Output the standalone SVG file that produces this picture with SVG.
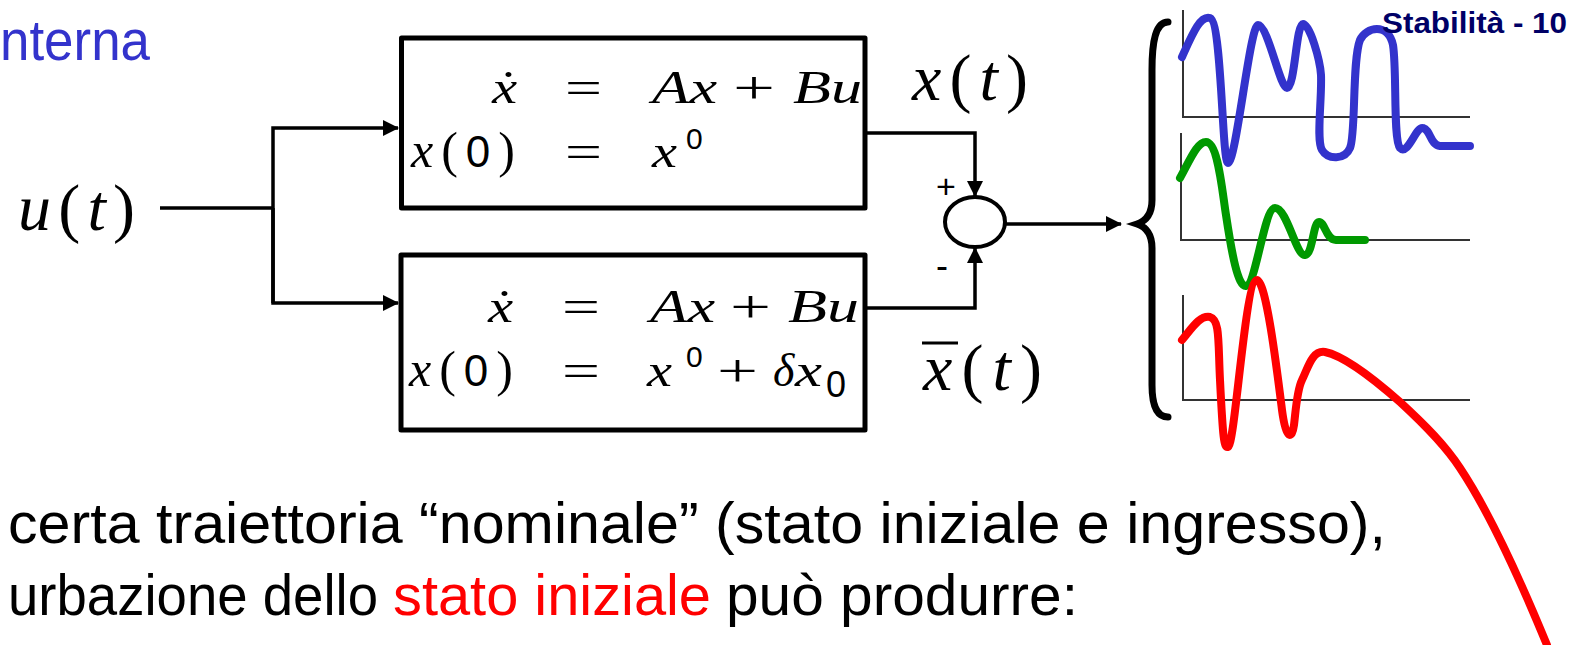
<svg xmlns="http://www.w3.org/2000/svg" width="1580" height="645" viewBox="0 0 1580 645">
<defs>
<style>
.m{font-family:"Liberation Serif","DejaVu Serif",serif;fill:#000}
.i{font-style:italic}
.s{font-family:"Liberation Sans",Arial,sans-serif}
.box{fill:#fff;stroke:#000;stroke-width:5;stroke-linejoin:round}
.w{fill:none;stroke:#000;stroke-width:3.5}
.ax{fill:none;stroke:#333;stroke-width:2}
.cv{fill:none;stroke-width:8;stroke-linecap:round;stroke-linejoin:round}
.body{font-family:"Liberation Sans",Arial,sans-serif;font-size:57px;fill:#000}
</style>
<marker id="ah" markerUnits="userSpaceOnUse" markerWidth="16" markerHeight="16" refX="15" refY="8" orient="auto">
<path d="M0,0 L16,8 L0,16 z" fill="#000"/>
</marker>
</defs>
<rect width="1580" height="645" fill="#fff"/>

<text x="0" y="60" class="body" style="fill:#3333cc" textLength="150" lengthAdjust="spacingAndGlyphs">nterna</text>

<g id="input">
<text class="m" font-size="66" y="230" x="18" textLength="117" lengthAdjust="spacing"><tspan class="i">u</tspan>(<tspan class="i">t</tspan>)</text>
</g>

<g id="connectors">
<polyline class="w" points="160,208 273,208"/>
<polyline class="w" points="273,303 273,128 398,128" marker-end="url(#ah)"/>
<polyline class="w" points="273,208 273,303 398,303" marker-end="url(#ah)"/>
<polyline class="w" points="865,133 975,133 975,196" marker-end="url(#ah)"/>
<polyline class="w" points="865,308 975,308 975,248" marker-end="url(#ah)"/>
<polyline class="w" points="1005,224 1121,224" marker-end="url(#ah)"/>
</g>

<g id="system1">
<rect class="box" x="401.5" y="38" width="463.5" height="170"/>
<text class="m i" font-size="46" x="492" y="103" textLength="25" lengthAdjust="spacingAndGlyphs">ẋ</text>
<text class="m" font-size="46" x="565" y="103" textLength="37" lengthAdjust="spacingAndGlyphs">=</text>
<text class="m i" font-size="46" x="652" y="103" textLength="65" lengthAdjust="spacingAndGlyphs">Ax</text>
<text class="m" font-size="46" x="733" y="103" textLength="42" lengthAdjust="spacingAndGlyphs">+</text>
<text class="m i" font-size="46" x="793" y="103" textLength="69" lengthAdjust="spacingAndGlyphs">Bu</text>
<text class="m" font-size="50" x="411" y="167" textLength="104" lengthAdjust="spacing"><tspan class="i">x</tspan>(<tspan class="s" font-size="44">0</tspan>)</text>
<text class="m" font-size="46" x="565" y="167" textLength="37" lengthAdjust="spacingAndGlyphs">=</text>
<text class="m i" font-size="46" x="652" y="167" textLength="25" lengthAdjust="spacingAndGlyphs">x</text>
<text class="m s" font-size="30" x="686" y="149">0</text>
</g>

<g id="system2">
<rect class="box" x="401" y="255" width="464" height="175"/>
<text class="m i" font-size="46" x="488" y="322" textLength="25" lengthAdjust="spacingAndGlyphs">ẋ</text>
<text class="m" font-size="46" x="562" y="322" textLength="38" lengthAdjust="spacingAndGlyphs">=</text>
<text class="m i" font-size="46" x="650" y="322" textLength="65" lengthAdjust="spacingAndGlyphs">Ax</text>
<text class="m" font-size="46" x="730" y="322" textLength="41" lengthAdjust="spacingAndGlyphs">+</text>
<text class="m i" font-size="46" x="788" y="322" textLength="71" lengthAdjust="spacingAndGlyphs">Bu</text>
<text class="m" font-size="50" x="409" y="386" textLength="104" lengthAdjust="spacing"><tspan class="i">x</tspan>(<tspan class="s" font-size="44">0</tspan>)</text>
<text class="m" font-size="46" x="562" y="386" textLength="38" lengthAdjust="spacingAndGlyphs">=</text>
<text class="m i" font-size="46" x="647" y="386" textLength="25" lengthAdjust="spacingAndGlyphs">x</text>
<text class="m s" font-size="30" x="686" y="367">0</text>
<text class="m" font-size="46" x="717" y="386" textLength="41" lengthAdjust="spacingAndGlyphs">+</text>
<text class="m i" font-size="46" x="773" y="386">δ</text>
<text class="m i" font-size="46" x="795" y="386" textLength="27" lengthAdjust="spacingAndGlyphs">x</text>
<text class="m s" font-size="36" x="826" y="397">0</text>
</g>

<g id="label-x">
<text class="m" font-size="66" x="912" y="100" textLength="116" lengthAdjust="spacing"><tspan class="i">x</tspan>(<tspan class="i">t</tspan>)</text>
</g>
<g id="label-xbar">
<text class="m" font-size="66" x="923" y="390" textLength="119" lengthAdjust="spacing"><tspan class="i">x</tspan>(<tspan class="i">t</tspan>)</text>
<line x1="922" y1="343" x2="958" y2="343" stroke="#000" stroke-width="3"/>
</g>

<g id="sum">
<ellipse cx="975" cy="222" rx="30" ry="25" fill="#fff" stroke="#000" stroke-width="4"/>
<text class="s" font-size="34" x="946" y="198" text-anchor="middle">+</text>
<text class="s" font-size="36" x="942" y="278" text-anchor="middle">-</text>
</g>

<g id="brace">
<path d="M1168,22 C1156,22 1152,40 1152,70 L1152,200 C1152,214 1146,221 1137,224 C1146,227 1152,234 1152,248 L1152,385 C1152,405 1157,417 1168,417" fill="none" stroke="#000" stroke-width="7" stroke-linecap="round"/>
</g>

<g id="plot-blue">
<polyline class="ax" points="1183,10 1183,117 1470,117"/>
<path class="cv" stroke="#3333cc" d="M1182,57 C1192,35 1200,15 1210,18 C1222,22 1222,163 1228,163 C1236,163 1250,25 1258,25 C1268,25 1280,88 1287,88 C1295,88 1296,24 1303,24 C1310,24 1320,60 1321,75 C1322,100 1316,140 1322,150 C1328,160 1345,160 1350,148 C1356,135 1352,60 1360,40 C1366,27 1388,22 1393,45 C1397,70 1393,140 1400,148 C1408,156 1416,126 1423,128 C1431,130 1430,145 1440,146 L1470,146"/>
</g>
<g id="plot-green">
<polyline class="ax" points="1181,133 1181,240 1470,240"/>
<path class="cv" stroke="#009900" d="M1180,178 C1190,160 1197,142 1206,142 C1218,142 1222,190 1226,215 C1232,255 1238,287 1246,286 C1256,285 1264,208 1275,208 C1287,208 1296,256 1305,255 C1313,254 1313,222 1319,222 C1325,222 1326,240 1336,240 L1365,240"/>
</g>
<g id="plot-red">
<polyline class="ax" points="1183,295 1183,400 1470,400"/>
<path class="cv" stroke="#ff0000" d="M1182,340 C1192,328 1200,315 1210,317 C1220,320 1218,340 1220,380 C1223,440 1224,448 1228,447 C1235,446 1245,280 1257,280 C1266,280 1277,370 1282,410 C1286,440 1292,440 1294,425 C1296,408 1297,390 1302,380 C1308,368 1312,350 1325,352 C1345,356 1375,380 1400,402 C1425,425 1445,445 1460,468 C1480,498 1510,555 1547,645"/>
</g>

<text class="body" x="8" y="543" textLength="1378" lengthAdjust="spacingAndGlyphs">certa traiettoria “nominale” (stato iniziale e ingresso),</text>
<text class="body" x="8" y="615" textLength="370" lengthAdjust="spacingAndGlyphs">urbazione dello</text>
<text class="body" x="393" y="615" style="fill:#ff0000" textLength="318" lengthAdjust="spacingAndGlyphs">stato iniziale</text>
<text class="body" x="726" y="615" textLength="352" lengthAdjust="spacingAndGlyphs">può produrre:</text>

<text x="1382" y="33" font-family="Liberation Sans, Arial, sans-serif" font-weight="bold" font-size="29" fill="#000066" textLength="185" lengthAdjust="spacingAndGlyphs">Stabilità - 10</text>
</svg>
